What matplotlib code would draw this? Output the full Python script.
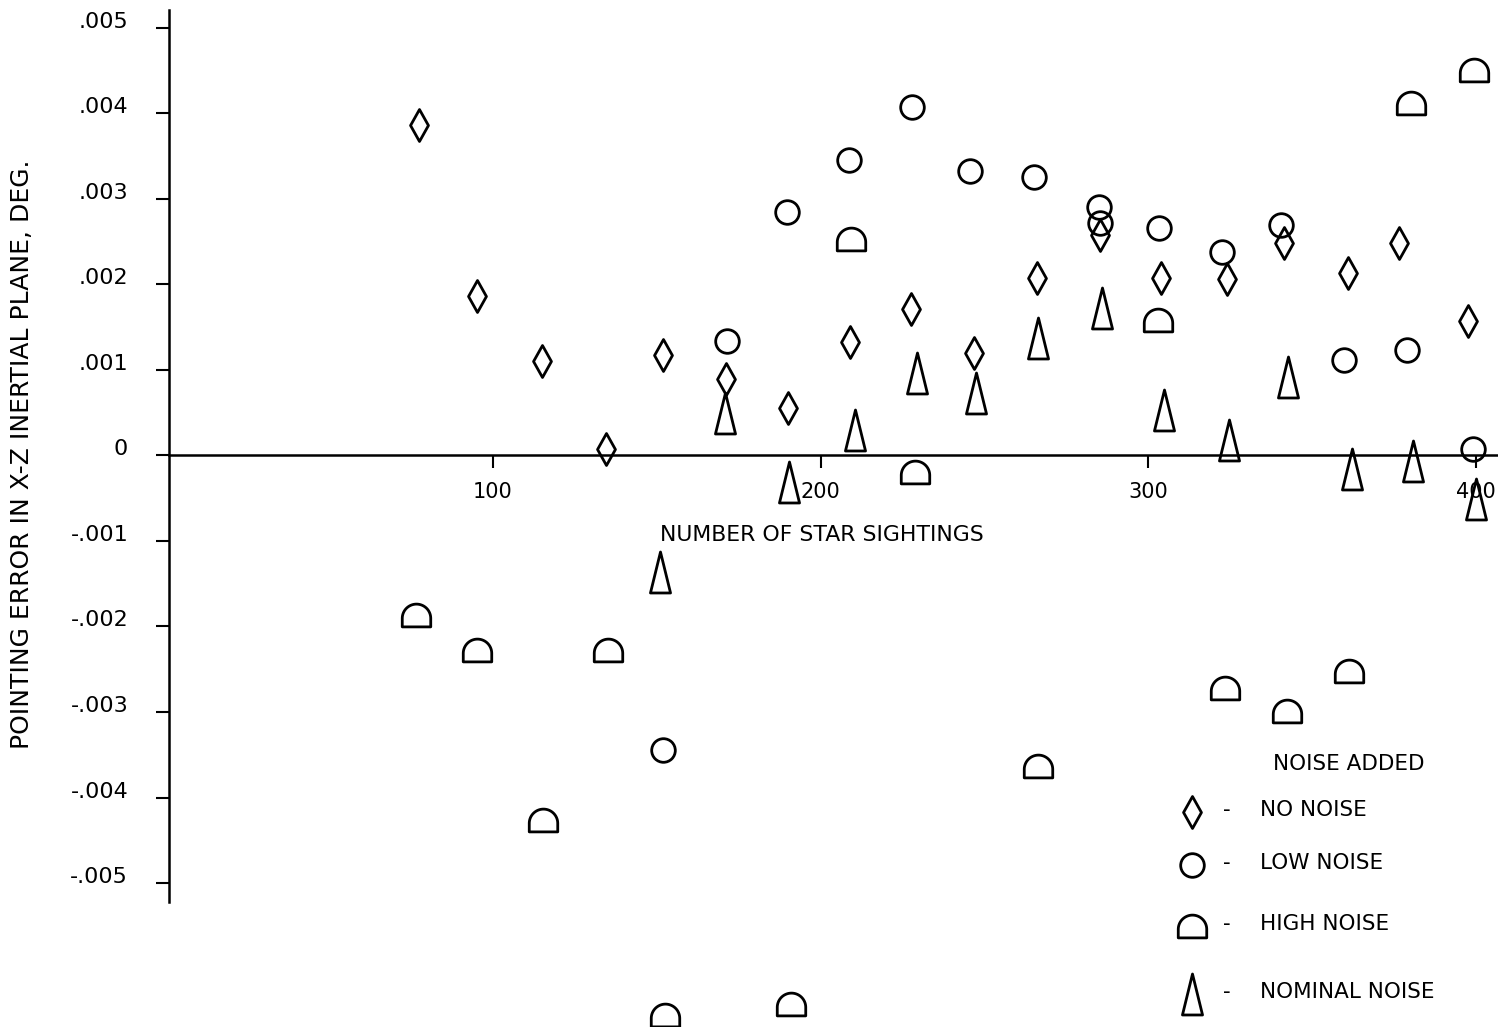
"""
Pointing error in the X-Z inertial plane vs number of star sightings,
for four noise levels. Values read off the scanned figure.
"""
import numpy as np
import matplotlib
matplotlib.use("Agg")
import matplotlib.pyplot as plt
from matplotlib.path import Path
from matplotlib.markers import MarkerStyle

# number of star sightings (x) and pointing error, deg (y)
no_noise_x = [77.4, 95.0, 115.0, 134.5, 151.8, 171.1, 190.0, 208.9, 227.7,
              246.9, 266.0, 285.3, 303.9, 324.1, 341.5, 360.9, 376.6, 397.7]
no_noise_y = [.00387, .00186, .00110, .00008, .00118, .00090, .00056, .00133, .00171,
              .00120, .00208, .00258, .00208, .00206, .00248, .00213, .00248, .00157]

low_noise_x = [152.0, 171.3, 189.7, 208.8, 228.0, 245.7, 265.2, 285.0, 285.3,
               303.4, 322.4, 340.5, 359.9, 379.1, 399.1]
low_noise_y = [-.00344, .00134, .00285, .00346, .00407, .00333, .00326, .00291, .00272,
               .00266, .00238, .00270, .00112, .00123, .00007]

high_noise_x = [76.5, 95.2, 115.4, 135.2, 152.5, 191.0, 209.2, 228.8, 266.4,
                302.9, 323.4, 342.5, 361.3, 380.2, 399.4]
high_noise_y = [-.00187, -.00228, -.00426, -.00228, -.00654, -.00642, .00253, -.00019, -.00363,
                .00159, -.00272, -.00299, -.00252, .00412, .00451]

nominal_x = [151.0, 170.8, 190.4, 210.5, 229.3, 247.3, 266.5, 285.8, 304.8,
             324.7, 342.8, 362.3, 380.7, 400.0]
nominal_y = [-.00136, .00050, -.00031, .00030, .00097, .00073, .00137, .00172, .00053,
             .00018, .00092, -.00016, -.00006, -.00051]

x_ticks = [100, 200, 300, 400]
y_ticks = [.005, .004, .003, .002, .001, 0, -.001, -.002, -.003, -.004, -.005]
y_tick_labels = [".005", ".004", ".003", ".002", ".001", "0",
                 "-.001", "-.002", "-.003", "-.004", "-.005"]

W, H = 1498, 1027
FONT = "DejaVu Sans"


def closed(verts):
    codes = [Path.MOVETO] + [Path.LINETO] * (len(verts) - 1) + [Path.CLOSEPOLY]
    return Path(list(verts) + [verts[0]], codes)


# hand-drawn style symbols of the original
DIAMOND = closed([(0, 1), (0.56, 0), (0, -1), (-0.56, 0)])
TRIANGLE = closed([(0, 1), (0.49, -1), (-0.49, -1)])
_t = np.linspace(0, np.pi, 40)
DOME = closed([(1, -0.8)] + list(zip(np.cos(_t), np.sin(_t) - 0.2)) + [(-1, -0.8)])

SERIES = [
    # x, y, marker, size
    (no_noise_x, no_noise_y, MarkerStyle(DIAMOND, joinstyle="miter"), 23),
    (low_noise_x, low_noise_y, "o", 17),
    (high_noise_x, high_noise_y, MarkerStyle(DOME, joinstyle="miter"), 20.5),
    (nominal_x, nominal_y, MarkerStyle(TRIANGLE, joinstyle="miter"), 29.5),
]
KW = dict(ls="none", mfc="none", mec="black", mew=2.0, clip_on=False)


def fx(px):
    return px / W


def fy(py):
    return 1 - py / H


fig = plt.figure(figsize=(W / 100, H / 100), dpi=100)
ax = fig.add_axes([0, 0, 1, 1])
ax.set_facecolor("white")

for xs, ys, m, ms in SERIES:
    ax.plot(xs, ys, marker=m, ms=ms, **KW)

# scale of the scan: 3.276 px per sighting, 85.5 px per .001 deg
ax.set_xlim(-50.5, 406.8)
ax.set_ylim(-0.006684, 0.005327)

for s in ["top", "right"]:
    ax.spines[s].set_visible(False)
ax.spines["left"].set_position(("data", 1.1))
ax.spines["left"].set_bounds(-0.005222, 0.005210)
ax.spines["bottom"].set_position(("data", 0))
ax.spines["bottom"].set_bounds(1.1, 406.8)
for s in ["left", "bottom"]:
    ax.spines[s].set_linewidth(1.8)

ax.set_xticks(x_ticks)
ax.set_xticklabels([str(v) for v in x_ticks], family=FONT, fontsize=15)
ax.set_yticks(y_ticks)
ax.set_yticklabels(y_tick_labels, family=FONT, fontsize=16)
plt.setp(ax.get_yticklabels(), va="baseline")
ax.tick_params(axis="x", direction="out", length=9.4, width=1.5, pad=10)
ax.tick_params(axis="y", direction="out", length=9.4, width=1.5, pad=20)

ax.set_xlabel("NUMBER OF STAR SIGHTINGS", family=FONT, fontsize=15.8,
              ha="center", va="center")
ax.xaxis.set_label_coords(fx(822), fy(535))
ax.set_ylabel("POINTING ERROR IN X-Z INERTIAL PLANE, DEG.", family=FONT,
              fontsize=18, ha="center", va="center")
ax.yaxis.set_label_coords(fx(22), fy(454))

# key, drawn like the original (symbol, dash, text)
ax.text(fx(1273), fy(764), "NOISE ADDED", transform=ax.transAxes,
        family=FONT, fontsize=15.5, ha="left", va="center")
key_rows = [(812, "NO NOISE"), (865, "LOW NOISE"), (926, "HIGH NOISE"), (994, "NOMINAL NOISE")]
for (py, label), (_, _, m, ms) in zip(key_rows, SERIES):
    ax.plot([fx(1192)], [fy(py)], marker=m, ms=ms, transform=ax.transAxes, **KW)
    ax.text(fx(1227), fy(py - 2), "-", transform=ax.transAxes,
            family=FONT, fontsize=15.5, ha="center", va="center")
    ax.text(fx(1260), fy(py - 2), label, transform=ax.transAxes,
            family=FONT, fontsize=15.5, ha="left", va="center")

fig.savefig("out.png", dpi=100, facecolor="white")
